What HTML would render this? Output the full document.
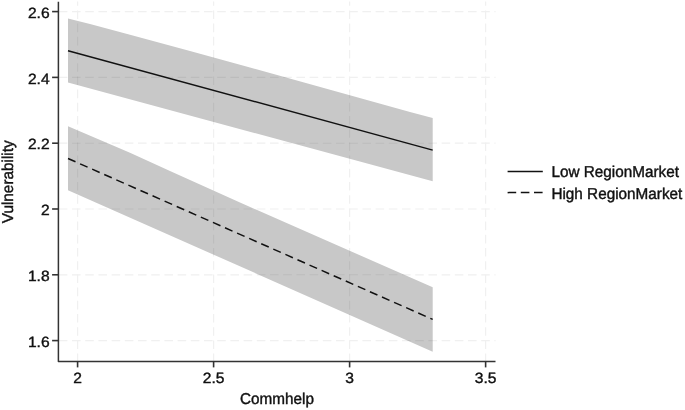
<!DOCTYPE html>
<html><head><meta charset="utf-8"><style>
html,body{margin:0;padding:0;background:#fff;}
body{width:685px;height:410px;overflow:hidden;}
svg{display:block;text-rendering:geometricPrecision;filter:blur(0.35px);font-family:"Liberation Sans",sans-serif;}
text{fill:#111;stroke:#111;stroke-width:0.4px;}
</style></head><body>
<svg width="685" height="410" viewBox="0 0 685 410">
<defs><clipPath id="bc"><path d="M68.00,18.60 L90.00,24.00 L130.00,34.70 L190.00,51.10 L250.00,67.50 L410.00,111.90 L432.70,118.10 L432.70,181.20 L68.00,82.50Z"/><path d="M68.00,126.30 L130.00,152.70 L170.00,171.00 L240.00,202.50 L432.70,287.30 L432.70,351.70 L68.00,190.20Z"/></clipPath></defs>
<rect width="685" height="410" fill="#fff"/>
<line x1="58.40" y1="340.59" x2="495.50" y2="340.59" stroke="#f0f0f0" stroke-width="1.2" stroke-dasharray="8.6 4.6" stroke-dashoffset="-0.4"/>
<line x1="58.40" y1="274.79" x2="495.50" y2="274.79" stroke="#f0f0f0" stroke-width="1.2" stroke-dasharray="8.6 4.6" stroke-dashoffset="-0.4"/>
<line x1="58.40" y1="208.99" x2="495.50" y2="208.99" stroke="#f0f0f0" stroke-width="1.2" stroke-dasharray="8.6 4.6" stroke-dashoffset="-0.4"/>
<line x1="58.40" y1="143.19" x2="495.50" y2="143.19" stroke="#f0f0f0" stroke-width="1.2" stroke-dasharray="8.6 4.6" stroke-dashoffset="-0.4"/>
<line x1="58.40" y1="77.39" x2="495.50" y2="77.39" stroke="#f0f0f0" stroke-width="1.2" stroke-dasharray="8.6 4.6" stroke-dashoffset="-0.4"/>
<line x1="58.40" y1="11.59" x2="495.50" y2="11.59" stroke="#f0f0f0" stroke-width="1.2" stroke-dasharray="8.6 4.6" stroke-dashoffset="-0.4"/>
<line x1="77.59" y1="361.50" x2="77.59" y2="1.5" stroke="#f0f0f0" stroke-width="1.2" stroke-dasharray="8.6 4.6" stroke-dashoffset="0.7"/>
<line x1="213.60" y1="361.50" x2="213.60" y2="1.5" stroke="#f0f0f0" stroke-width="1.2" stroke-dasharray="8.6 4.6" stroke-dashoffset="0.7"/>
<line x1="349.61" y1="361.50" x2="349.61" y2="1.5" stroke="#f0f0f0" stroke-width="1.2" stroke-dasharray="8.6 4.6" stroke-dashoffset="0.7"/>
<line x1="485.62" y1="361.50" x2="485.62" y2="1.5" stroke="#f0f0f0" stroke-width="1.2" stroke-dasharray="8.6 4.6" stroke-dashoffset="0.7"/>
<path d="M68.00,18.60 L90.00,24.00 L130.00,34.70 L190.00,51.10 L250.00,67.50 L410.00,111.90 L432.70,118.10 L432.70,181.20 L68.00,82.50Z" fill="#c8c8c8"/>
<path d="M68.00,126.30 L130.00,152.70 L170.00,171.00 L240.00,202.50 L432.70,287.30 L432.70,351.70 L68.00,190.20Z" fill="#c8c8c8"/>
<g clip-path="url(#bc)">
<line x1="58.40" y1="340.59" x2="495.50" y2="340.59" stroke="#000" stroke-opacity="0.06" stroke-width="1.1" stroke-dasharray="8.6 4.6" stroke-dashoffset="-0.4"/>
<line x1="58.40" y1="274.79" x2="495.50" y2="274.79" stroke="#000" stroke-opacity="0.06" stroke-width="1.1" stroke-dasharray="8.6 4.6" stroke-dashoffset="-0.4"/>
<line x1="58.40" y1="208.99" x2="495.50" y2="208.99" stroke="#000" stroke-opacity="0.06" stroke-width="1.1" stroke-dasharray="8.6 4.6" stroke-dashoffset="-0.4"/>
<line x1="58.40" y1="143.19" x2="495.50" y2="143.19" stroke="#000" stroke-opacity="0.06" stroke-width="1.1" stroke-dasharray="8.6 4.6" stroke-dashoffset="-0.4"/>
<line x1="58.40" y1="77.39" x2="495.50" y2="77.39" stroke="#000" stroke-opacity="0.06" stroke-width="1.1" stroke-dasharray="8.6 4.6" stroke-dashoffset="-0.4"/>
<line x1="58.40" y1="11.59" x2="495.50" y2="11.59" stroke="#000" stroke-opacity="0.06" stroke-width="1.1" stroke-dasharray="8.6 4.6" stroke-dashoffset="-0.4"/>
<line x1="77.59" y1="361.50" x2="77.59" y2="1.5" stroke="#000" stroke-opacity="0.06" stroke-width="1.1" stroke-dasharray="8.6 4.6" stroke-dashoffset="0.7"/>
<line x1="213.60" y1="361.50" x2="213.60" y2="1.5" stroke="#000" stroke-opacity="0.06" stroke-width="1.1" stroke-dasharray="8.6 4.6" stroke-dashoffset="0.7"/>
<line x1="349.61" y1="361.50" x2="349.61" y2="1.5" stroke="#000" stroke-opacity="0.06" stroke-width="1.1" stroke-dasharray="8.6 4.6" stroke-dashoffset="0.7"/>
<line x1="485.62" y1="361.50" x2="485.62" y2="1.5" stroke="#000" stroke-opacity="0.06" stroke-width="1.1" stroke-dasharray="8.6 4.6" stroke-dashoffset="0.7"/>
</g>
<line x1="68.0" y1="50.7" x2="432.7" y2="150.1" stroke="#111" stroke-width="1.4"/>
<line x1="68.0" y1="158.5" x2="432.7" y2="319.4" stroke="#111" stroke-width="1.5" stroke-dasharray="8.2 5"/>
<path d="M58.4,1.8 L58.4,361.5 L495.5,361.5" fill="none" stroke-linejoin="round" stroke="#333" stroke-width="1.5"/>
<line x1="52.1" y1="340.59" x2="58.4" y2="340.59" stroke="#333" stroke-width="1.6"/>
<text transform="translate(49.60,346.74) scale(1.02,0.975)" text-anchor="end" font-size="15.3">1.6</text>
<line x1="52.1" y1="274.79" x2="58.4" y2="274.79" stroke="#333" stroke-width="1.6"/>
<text transform="translate(49.60,280.94) scale(1.02,0.975)" text-anchor="end" font-size="15.3">1.8</text>
<line x1="52.1" y1="208.99" x2="58.4" y2="208.99" stroke="#333" stroke-width="1.6"/>
<text transform="translate(49.60,215.14) scale(1.02,0.975)" text-anchor="end" font-size="15.3">2</text>
<line x1="52.1" y1="143.19" x2="58.4" y2="143.19" stroke="#333" stroke-width="1.6"/>
<text transform="translate(49.60,149.34) scale(1.02,0.975)" text-anchor="end" font-size="15.3">2.2</text>
<line x1="52.1" y1="77.39" x2="58.4" y2="77.39" stroke="#333" stroke-width="1.6"/>
<text transform="translate(49.60,83.54) scale(1.02,0.975)" text-anchor="end" font-size="15.3">2.4</text>
<line x1="52.1" y1="11.59" x2="58.4" y2="11.59" stroke="#333" stroke-width="1.6"/>
<text transform="translate(49.60,17.74) scale(1.02,0.975)" text-anchor="end" font-size="15.3">2.6</text>
<line x1="77.59" y1="361.5" x2="77.59" y2="367.4" stroke="#333" stroke-width="1.6"/>
<text transform="translate(77.59,382.80) scale(1.02,0.975)" text-anchor="middle" font-size="15.3">2</text>
<line x1="213.60" y1="361.5" x2="213.60" y2="367.4" stroke="#333" stroke-width="1.6"/>
<text transform="translate(213.60,382.80) scale(1.02,0.975)" text-anchor="middle" font-size="15.3">2.5</text>
<line x1="349.61" y1="361.5" x2="349.61" y2="367.4" stroke="#333" stroke-width="1.6"/>
<text transform="translate(349.61,382.80) scale(1.02,0.975)" text-anchor="middle" font-size="15.3">3</text>
<line x1="485.62" y1="361.5" x2="485.62" y2="367.4" stroke="#333" stroke-width="1.6"/>
<text transform="translate(485.62,382.80) scale(1.02,0.975)" text-anchor="middle" font-size="15.3">3.5</text>
<text transform="translate(277.00,404.00) scale(1.0,1.03)" text-anchor="middle" font-size="15.3">Commhelp</text>
<text transform="translate(13.30,181.80) rotate(-90) scale(1.0,1.03)" text-anchor="middle" font-size="15.3">Vulnerability</text>
<line x1="507.6" y1="171.4" x2="542.8" y2="171.4" stroke="#111" stroke-width="1.45"/>
<line x1="507.6" y1="192.6" x2="542.8" y2="192.6" stroke="#111" stroke-width="1.5" stroke-dasharray="8.6 4.6"/>
<text transform="translate(551.40,177.20) scale(1.0,1.03)" text-anchor="start" font-size="15.3">Low RegionMarket</text>
<text transform="translate(551.40,198.80) scale(1.0,1.03)" text-anchor="start" font-size="15.3">High RegionMarket</text>
</svg>
</body></html>
